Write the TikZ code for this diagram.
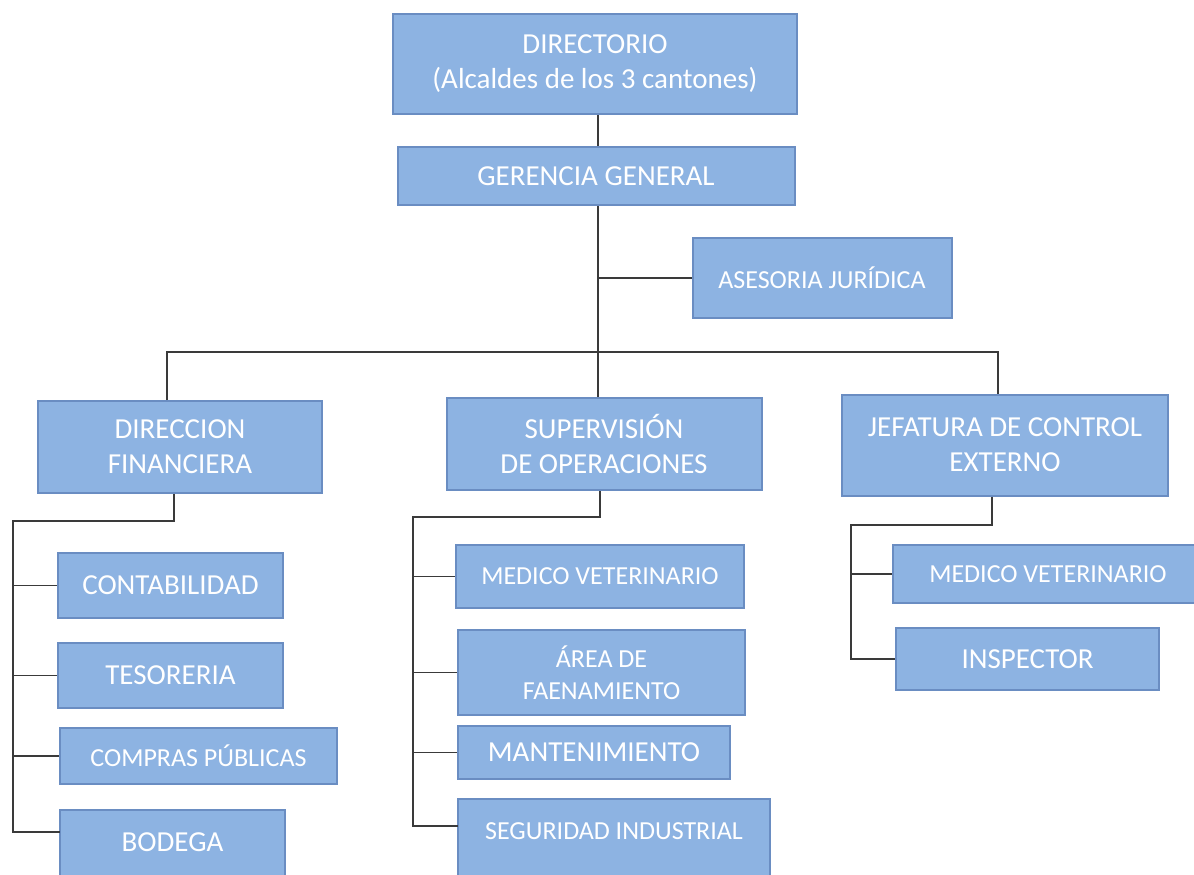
\documentclass[tikz,border=0pt]{standalone}
\usepackage{fontspec}
\setmainfont{Carlito}
\usetikzlibrary{positioning}
\definecolor{boxblue}{HTML}{8DB3E2}
\definecolor{boxedge}{HTML}{6A8DC2}
\definecolor{linegray}{HTML}{3A3A3A}

\begin{document}
\begin{tikzpicture}[x=0.5pt,y=-0.5pt,
    unit/.style={rectangle,draw=boxedge,fill=boxblue,line width=1pt,text=white,align=center,inner sep=0pt,font=\fontsize{14.5}{17.5}\selectfont},
    small unit/.style={unit,font=\fontsize{13}{16}\selectfont},
    link/.style={draw=linegray,line width=0.8pt}]
    \useasboundingbox (0,0) rectangle (1194,874);
    \clip (0,0) rectangle (1194,874);

    % top of the chart
    \node[unit,minimum width=202pt,minimum height=50pt] (dir) at (595,64) {DIRECTORIO\\(Alcaldes de los 3 cantones)};
    \node[unit,minimum width=198.5pt,minimum height=29pt] (ger) at (596,176) {GERENCIA GENERAL};
    \node[small unit,minimum width=129.5pt,minimum height=40pt] (ase) at (822,278) {ASESORIA JURÍDICA};

    % three departments
    \node[unit,minimum width=142pt,minimum height=46pt] (fin) at (180,447) {DIRECCION\\FINANCIERA};
    \node[unit,minimum width=157.5pt,minimum height=46pt] (ope) at (604,444) {SUPERVISIÓN\\DE OPERACIONES};
    \node[unit,minimum width=163pt,minimum height=50.5pt] (ext) at (1005,445) {JEFATURA DE CONTROL\\EXTERNO};

    % finance units
    \node[unit,minimum width=112.5pt,minimum height=32.5pt] (cont) at (170.5,585.5) {CONTABILIDAD};
    \node[unit,minimum width=112.5pt,minimum height=32.5pt] (teso) at (170.5,675.5) {TESORERIA};
    \node[small unit,minimum width=138.5pt,minimum height=28pt] (comp) at (198.5,756) {COMPRAS PÚBLICAS};
    \node[unit,minimum width=112.5pt,text height=20.5pt,text depth=16pt,anchor=base] (bod) at (172.5,851) {BODEGA};

    % operations units
    \node[small unit,minimum width=144pt,minimum height=31.5pt] (vet) at (600,576.5) {MEDICO VETERINARIO};
    \node[small unit,minimum width=143.5pt,minimum height=42.5pt] (area) at (601.5,672.5) {ÁREA DE\\FAENAMIENTO};
    \node[unit,minimum width=136pt,minimum height=26.5pt] (mant) at (594,752.5) {MANTENIMIENTO};
    \node[small unit,minimum width=156pt,text height=20pt,text depth=22pt,anchor=base] (seg) at (614,839) {SEGURIDAD INDUSTRIAL};

    % control units
    \node[small unit,minimum width=155pt,minimum height=29pt] (vetext) at (1048,574) {MEDICO VETERINARIO};
    \node[unit,minimum width=131.5pt,minimum height=31pt] (insp) at (1027.5,659) {INSPECTOR};

    % junction points
    \coordinate (trunk) at (598,352);
    \coordinate (barL) at (167,352);
    \coordinate (barR) at (998,352);
    \coordinate (finK) at (174,521);
    \coordinate (finS) at (13,521);
    \coordinate (bodJ) at (60,832);
    \coordinate (opeK) at (600,517);
    \coordinate (opeS) at (413,517);
    \coordinate (segJ) at (458,826);
    \coordinate (extK) at (992,525);
    \coordinate (extS) at (851,525);

    \draw[link] (dir.south -| trunk) -- (ger.north -| trunk);
    \draw[link] (ger.south -| trunk) -- (trunk |- ope.north);
    \draw[link] (trunk |- ase.west) -- (ase.west);
    \draw[link] (barL |- fin.north) -- (barL) -- (barR) -- (barR |- ext.north);

    \draw[link] (finK |- fin.south) -- (finK) -- (finS) -- (finS |- bodJ) -- (bodJ);
    \draw[link] (finS |- cont.west) -- (cont.west);
    \draw[link] (finS |- teso.west) -- (teso.west);
    \draw[link] (finS |- comp.west) -- (comp.west);

    \draw[link] (opeK |- ope.south) -- (opeK) -- (opeS) -- (opeS |- segJ) -- (segJ);
    \draw[link] (opeS |- vet.west) -- (vet.west);
    \draw[link] (opeS |- area.west) -- (area.west);
    \draw[link] (opeS |- mant.west) -- (mant.west);

    \draw[link] (extK |- ext.south) -- (extK) -- (extS) -- (extS |- insp.west) -- (insp.west);
    \draw[link] (extS |- vetext.west) -- (vetext.west);
\end{tikzpicture}
\end{document}
